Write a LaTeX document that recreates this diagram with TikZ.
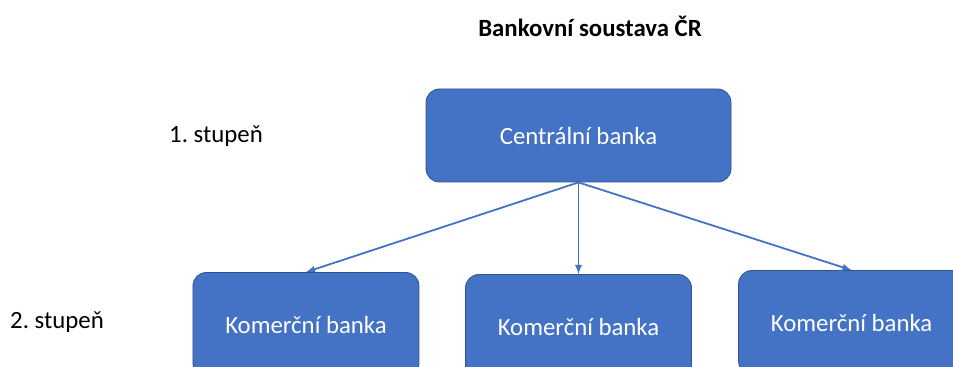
\documentclass[tikz,border=0pt]{standalone}
\usepackage{fontspec}
\setmainfont{Carlito}
\frenchspacing
\usepackage{tikz}
\usetikzlibrary{arrows}
\definecolor{officeblue}{HTML}{4472C4}
\definecolor{officeline}{HTML}{2F528F}
\tikzset{
  banknode/.style = {shape=rectangle, rounded corners=10pt,
                     draw=officeline, line width=0.6pt, anchor=center,
                     fill=officeblue, text=white, align=center,
                     font=\fontsize{18.6}{22}\selectfont,
                     minimum width=228.75pt, minimum height=69.75pt,
                     inner sep=0pt},
  banknodesmall/.style = {banknode, minimum width=169.5pt,
                     minimum height=78pt},
  levellabel/.style = {font=\fontsize{18.6}{22}\selectfont, inner sep=0pt},
  arrow/.style = {line width=1.35pt, draw=officeblue, ->, >=latex}
}
\begin{document}
\begin{tikzpicture}[x=0.75pt, y=-0.75pt, node distance=143.25pt]
            \path[use as bounding box, clip] (0,0) rectangle (953,367);
            \node (title) [levellabel, font=\fontsize{18.6}{22}\selectfont\bfseries] at (590,26) {Bankovní soustava ČR};
            \node (cb) [banknode] at (578.5,135.5) {Centrální banka};
            \node (kb2) [banknodesmall, below of=cb] {Komerční banka};
            \node (kb1) [banknodesmall, left of=kb2, node distance=204.4pt, yshift=1.5pt] {Komerční banka};
            \node (kb3) [banknodesmall, right of=kb2, node distance=204.8pt, yshift=3pt] {Komerční banka};
            \node (l1) [levellabel] at (216,136) {1. stupeň};
            \node (l2) [levellabel] at (57,322) {2. stupeň};

            \draw [arrow] (cb.south) -- (kb1.north);
            \draw [arrow] (cb.south) -- (kb2.north);
            \draw [arrow] (cb.south) -- (kb3.north);
        \end{tikzpicture}
\end{document}
